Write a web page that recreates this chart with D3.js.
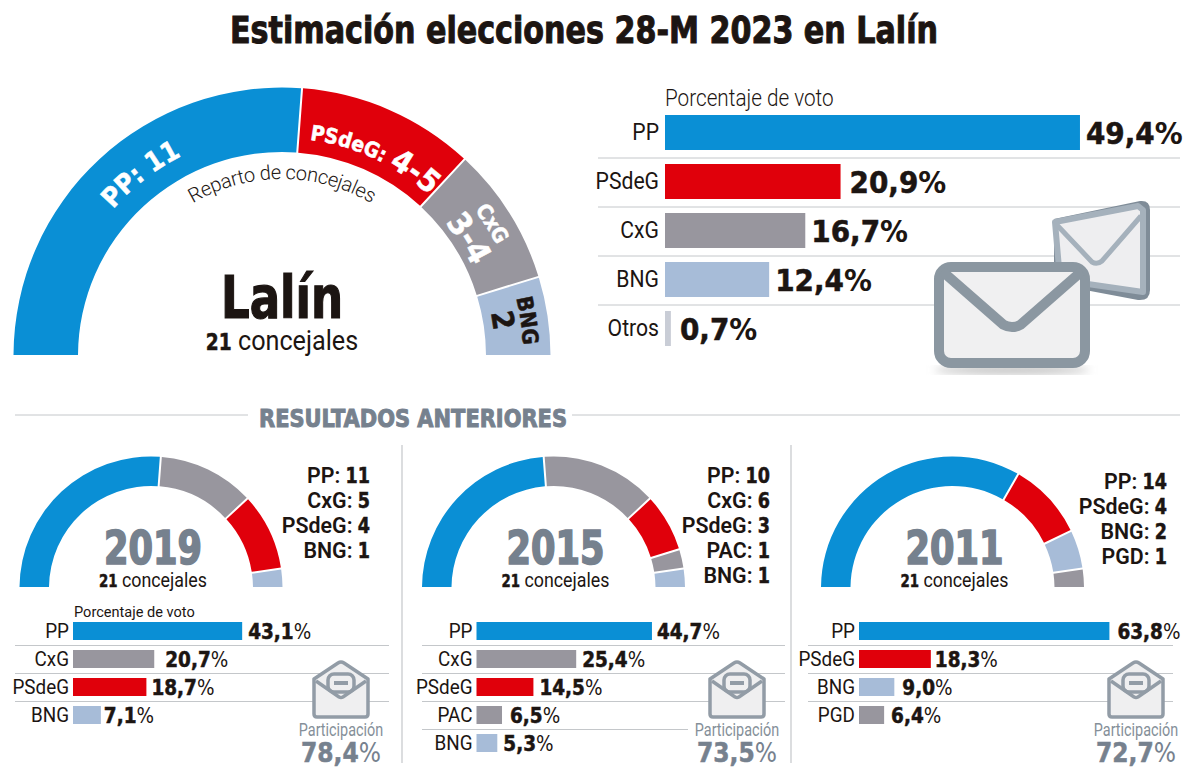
<!DOCTYPE html>
<html>
<head>
<meta charset="utf-8">
<script src="https://cdn.jsdelivr.net/npm/d3@7"></script>
<style>
  html, body { margin: 0; padding: 0; background: #fff; }
  svg { display: block; }
  text { fill: #1c1512; }
  .heavy { font-family: "DejaVu Sans Condensed", "DejaVu Sans"; font-weight: 700; font-stretch: condensed; stroke: #1c1512; stroke-width: 0.5px; }
  .narrow { font-family: "Roboto"; font-weight: 400; }
</style>
</head>
<body>
<div id="chart"></div>
<script>
// 2023 estimate
var mainParties = ["PP", "PSdeG", "CxG", "BNG"];
var mainSeats = [11, 4.5, 3.5, 2];
var voteParties = ["PP", "PSdeG", "CxG", "BNG", "Otros"];
var voteValues = [49.4, 20.9, 16.7, 12.4, 0.7];

// previous elections
var parties2019 = ["PP", "CxG", "PSdeG", "BNG"];
var seats2019 = [11, 5, 4, 1];
var votes2019 = [43.1, 20.7, 18.7, 7.1];
var turnout2019 = 78.4;

var parties2015 = ["PP", "CxG", "PSdeG", "PAC", "BNG"];
var seats2015 = [10, 6, 3, 1, 1];
var votes2015 = [44.7, 25.4, 14.5, 6.5, 5.3];
var turnout2015 = 73.5;

var parties2011 = ["PP", "PSdeG", "BNG", "PGD"];
var seats2011 = [14, 4, 2, 1];
var votes2011 = [63.8, 18.3, 9.0, 6.4];
var turnout2011 = 72.7;

var colors = {
  PP: "#0a8fd5", PSdeG: "#e0000b", CxG: "#98969e", BNG: "#a7bcd8",
  PAC: "#98969e", PGD: "#98969e", Otros: "#c9cdd6"
};
var slate = "#76818e";
var ruleColor = "#c4c7ca";
var fmt = v => v.toFixed(1).replace(".", ",");

var svg = d3.select("#chart").append("svg").attr("width", 1200).attr("height", 774);
var defs = svg.append("defs");
defs.append("filter").attr("id", "blur").append("feGaussianBlur").attr("stdDeviation", 4);

function label(parent, x, y, cls, size, str, anchor, fit) {
  var t = parent.append("text").attr("x", x).attr("y", y).attr("class", cls)
    .attr("font-size", size).attr("text-anchor", anchor || "start").text(str);
  if (fit) t.attr("textLength", fit).attr("lengthAdjust", "spacingAndGlyphs");
  return t;
}

// squeeze a text horizontally around its own x
function squeeze(t, k) {
  t.each(function () {
    var x = +d3.select(this).attr("x") || 0;
    d3.select(this).attr("transform", `translate(${x * (1 - k)},0) scale(${k},1)`);
  });
  return t;
}

function tone(t, col) {
  return t.style("fill", col).style("stroke", col);
}

// half ring, one slice per party
function drawArc(cx, cy, outer, inner, parties, seats) {
  var pie = d3.pie().sort(null).startAngle(-Math.PI / 2).endAngle(Math.PI / 2);
  var arc = d3.arc().innerRadius(inner).outerRadius(outer).padAngle(2 / outer).padRadius(outer);
  svg.append("g").attr("transform", `translate(${cx},${cy})`)
    .selectAll("path").data(pie(seats)).enter().append("path")
    .attr("d", arc)
    .attr("fill", (d, i) => colors[parties[i]]);
}

// text following a circle around the main ring
var curveId = 0;
function curved(cx, cy, r, angle, parts, cls, fill) {
  var id = "curve" + (curveId++);
  var a0 = (angle - 70) * Math.PI / 180, a1 = (angle + 70) * Math.PI / 180;
  defs.append("path").attr("id", id).attr("d",
    `M${cx + r * Math.sin(a0)},${cy - r * Math.cos(a0)} A${r},${r} 0 0 1 ${cx + r * Math.sin(a1)},${cy - r * Math.cos(a1)}`);
  var t = svg.append("text").attr("class", cls).style("fill", fill);
  if (cls == "heavy") t.style("stroke", fill);
  var p = t.append("textPath").attr("href", "#" + id).attr("startOffset", "50%").attr("text-anchor", "middle");
  parts.forEach(function (s) {
    p.append("tspan").attr("font-size", s[1]).text(s[0]);
  });
  return t;
}

// horizontal bars with party names on an axis
function drawBars(o) {
  var x = d3.scaleLinear().domain([0, 100]).range([o.x0, o.x0 + o.pxPerPoint * 100]);
  var y = d3.scaleBand().domain(o.parties)
    .range([o.top, o.top + o.step * o.parties.length - o.gap])
    .paddingInner(o.gap / o.step).paddingOuter(0);
  var g = svg.append("g");

  // separators
  g.selectAll("line").data(o.parties.slice(1)).enter().append("line")
    .attr("x1", o.ruleX[0]).attr("x2", (d, i) => (o.lastRuleEnd && i == o.parties.length - 2) ? o.lastRuleEnd : o.ruleX[1])
    .attr("y1", d => y(d) - o.ruleGap).attr("y2", d => y(d) - o.ruleGap)
    .attr("stroke", ruleColor).attr("stroke-width", 1);

  g.selectAll("rect").data(o.parties).enter().append("rect")
    .attr("x", x(0)).attr("y", d => y(d))
    .attr("width", (d, i) => x(o.values[i]) - x(0))
    .attr("height", y.bandwidth())
    .attr("fill", d => colors[d]);

  var axis = g.append("g").attr("transform", `translate(${o.x0 - o.axisGap},0)`)
    .call(d3.axisLeft(y).tickSize(0).tickPadding(0));
  axis.select(".domain").remove();
  var ticks = axis.selectAll("text").attr("class", "narrow").attr("font-size", o.axisSize).style("fill", "#1c1512");
  ticks.attr("textLength", function () { return this.getComputedTextLength() * o.axisSqueeze; })
    .attr("lengthAdjust", "spacingAndGlyphs");

  o.parties.forEach(function (d, i) {
    var t = g.append("text").attr("class", "heavy")
      .attr("x", x(o.values[i]) + o.valueGap + (o.nudge ? o.nudge[i] : 0))
      .attr("y", y(d) + y.bandwidth() / 2)
      .attr("dy", "0.37em")
      .attr("font-size", o.valueSize);
    t.append("tspan").text(fmt(o.values[i]));
    t.append("tspan").attr("font-weight", o.percentWeight).style("stroke-width", 0).text("%");
  });
}

function closedEnvelope(x, y, w, h, col, sw) {
  var g = svg.append("g");
  g.append("rect").attr("x", x).attr("y", y).attr("width", w).attr("height", h).attr("rx", 12)
    .attr("fill", "#f0f0f1").attr("stroke", col).attr("stroke-width", sw);
  g.append("path").attr("d", `M${x + 3},${y + 4} L${x + w * 0.44},${y + h * 0.6} Q${x + w * 0.5},${y + h * 0.65} ${x + w * 0.56},${y + h * 0.6} L${x + w - 3},${y + 4}`)
    .attr("fill", "none").attr("stroke", col).attr("stroke-width", sw);
}

function openEnvelope(cx, top) {
  var col = "#929ca6";
  var g = svg.append("g").attr("transform", `translate(${cx},${top})`);
  g.append("path").attr("d", "M-27,17 L-3,1 Q0,-1 3,1 L27,17 L27,52 Q27,55 24,55 L-24,55 Q-27,55 -27,52 Z")
    .attr("fill", "#efeff0").attr("stroke", col).attr("stroke-width", 3.5).attr("stroke-linejoin", "round");
  g.append("rect").attr("x", -13).attr("y", 12).attr("width", 26).attr("height", 18).attr("rx", 6)
    .attr("fill", "#efeff0").attr("stroke", col).attr("stroke-width", 3.5);
  g.append("rect").attr("x", -7).attr("y", 19).attr("width", 14).attr("height", 4).attr("fill", col);
  g.append("path").attr("d", "M-25,19 L-2,35 Q0,36 2,35 L25,19").attr("fill", "none").attr("stroke", col).attr("stroke-width", 3.5);
}

// title
label(svg, 584, 43, "heavy", 38, "Estimación elecciones 28-M 2023 en Lalín", "middle", 708).style("stroke-width", "1px");

// main ring
drawArc(282, 356, 268.5, 204, mainParties, mainSeats);
curved(282, 355, 223, -38, [["PP: 11", 27]], "heavy", "#fff");
curved(282, 355, 217, 25, [["PSdeG: ", 21], ["4-5", 31]], "heavy", "#fff");
curved(282, 355, 241, 58, [["CxG", 21]], "heavy", "#fff");
curved(282, 355, 210, 58, [["3-4", 32]], "heavy", "#fff");
curved(282, 355, 241, 82, [["BNG", 22]], "heavy", "#1c1512");
curved(282, 355, 213, 81, [["2", 30]], "heavy", "#1c1512");
curved(282, 355, 176, 0, [["Reparto de concejales", 20]], "narrow", "#1c1512")
  .style("font-weight", 300).style("letter-spacing", "-0.35px");
label(svg, 282, 318, "heavy", 58, "Lalín", "middle", 122).style("stroke-width", "1.2px");
var sub = label(svg, 282, 350, "narrow", 28, "", "middle");
sub.append("tspan").attr("class", "heavy").attr("font-size", 23).text("21");
sub.append("tspan").text(" concejales");
squeeze(sub, 0.9);

// main bars
squeeze(label(svg, 665, 106, "narrow", 23, "Porcentaje de voto"), 0.9).style("font-weight", 300);
drawBars({
  parties: voteParties, values: voteValues, x0: 665, pxPerPoint: 8.4, top: 115, step: 49, gap: 14,
  ruleX: [598, 1180], ruleGap: 6, axisGap: 6, axisSize: 23, axisSqueeze: 0.92,
  valueGap: 6, valueSize: 31, percentWeight: 700, nudge: [0, 3, 0, 0, 3]
});
svg.append("ellipse").attr("cx", 1012).attr("cy", 370).attr("rx", 78).attr("ry", 4).attr("fill", "#bbb").attr("filter", "url(#blur)");
var back = svg.append("g");
back.append("path").attr("d", "M1054,219 L1140,201 Q1150,200 1150,210 L1150,290 Q1150,301 1138,300 L1085,290 L1054,270 Z")
  .attr("fill", "#7f8c98");
back.append("path").attr("d", "M1055,222 L1138,206 L1143,210 L1143,292 L1060,280 Z")
  .attr("fill", "#eeeef0").attr("stroke", "#a5b1bc").attr("stroke-width", 6).attr("stroke-linejoin", "round");
back.append("path").attr("d", "M1056,224 L1092,262 Q1097,265 1102,261 L1141,216")
  .attr("fill", "none").attr("stroke", "#a5b1bc").attr("stroke-width", 5);
closedEnvelope(939, 267, 146, 96, "#8b97a1", 10);

// previous results header
svg.append("line").attr("x1", 15).attr("x2", 248).attr("y1", 415).attr("y2", 415).attr("stroke", ruleColor);
svg.append("line").attr("x1", 572).attr("x2", 1180).attr("y1", 415).attr("y2", 415).attr("stroke", ruleColor);
tone(label(svg, 413, 427, "heavy", 24, "RESULTADOS ANTERIORES", "middle", 308), slate).style("stroke-width", "0.9px");
[402, 791].forEach(function (x) {
  svg.append("line").attr("x1", x).attr("x2", x).attr("y1", 445).attr("y2", 763).attr("stroke", ruleColor).attr("stroke-width", 1.2);
});

// one panel per past election
function drawPanel(p) {
  drawArc(p.cx, 588, 131.5, 102, p.parties, p.seats);
  tone(label(svg, p.cx + 2, 564, "heavy", 46, p.year, "middle", 98), slate).style("stroke-width", "1.6px");
  var s = label(svg, p.cx + 2, 587, "narrow", 20.5, "", "middle");
  s.append("tspan").attr("class", "heavy").attr("font-size", 17).text("21");
  s.append("tspan").text(" concejales");
  squeeze(s, 0.87);

  p.parties.forEach(function (d, i) {
    var t = label(svg, p.listX, p.listY + i * 25, "narrow", 23, "", "end");
    t.append("tspan").style("font-weight", 600).text(d + ": ");
    t.append("tspan").attr("class", "heavy").attr("font-size", 21).text(p.seats[i]);
    squeeze(t, 0.93);
  });

  drawBars({
    parties: p.parties, values: p.votes, x0: p.barX, pxPerPoint: 3.925, top: 622, step: 28, gap: 10,
    ruleX: p.ruleX, lastRuleEnd: p.lastRuleEnd, ruleGap: 4.5, axisGap: 4, axisSize: 20.5, axisSqueeze: 0.92,
    valueGap: 6, valueSize: 20.5, percentWeight: 400, nudge: p.nudge
  });

  openEnvelope(p.iconX, 662);
  squeeze(label(svg, p.iconX, 736, "narrow", 18, "Participación", "middle").style("fill", "#858f99"), 0.8);
  var v = tone(label(svg, p.iconX, 762, "heavy", 26, "", "middle"), slate);
  v.append("tspan").text(fmt(p.turnout));
  v.append("tspan").attr("font-weight", 400).style("stroke-width", 0).text("%");
}

drawPanel({ year: "2019", cx: 151, parties: parties2019, seats: seats2019, votes: votes2019, turnout: turnout2019,
  listX: 370, listY: 483, barX: 73, ruleX: [15, 389], iconX: 341, nudge: [0, 5, -1, -3] });
drawPanel({ year: "2015", cx: 553.5, parties: parties2015, seats: seats2015, votes: votes2015, turnout: turnout2015,
  listX: 770, listY: 483, barX: 476.5, ruleX: [422, 785], lastRuleEnd: 688, iconX: 737, nudge: [-1, 0, 0, 2, 0] });
drawPanel({ year: "2011", cx: 952.5, parties: parties2011, seats: seats2011, votes: votes2011, turnout: turnout2011,
  listX: 1167, listY: 489, barX: 859, ruleX: [808, 1173], iconX: 1136, nudge: [2, -2, 2, 1] });

squeeze(label(svg, 74, 617, "narrow", 15.5, "Porcentaje de voto"), 0.94);
</script>
</body>
</html>
